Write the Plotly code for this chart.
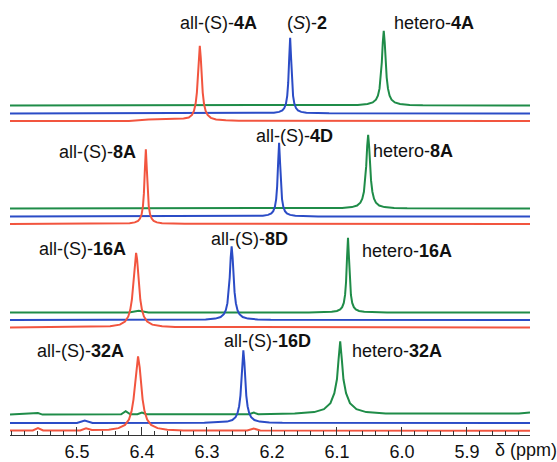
import plotly.graph_objects as go

# ---------------- data (ppm, intensity) ----------------
tick_vals = [6.5, 6.4, 6.3, 6.2, 6.1, 6.0, 5.9]
tick_text = ["6.5", "6.4", "6.3", "6.2", "6.1", "6.0", "5.9"]

# Panel 1
g1_ppm = [6.603, 6.088, 6.068, 6.053, 6.045, 6.040, 6.037, 6.0345, 6.0325, 6.031, 6.0295, 6.028,
          6.0265, 6.025, 6.0235, 6.0215, 6.019, 6.016, 6.011, 6.003, 5.988, 5.968, 5.803]
g1_int = [0, 0.25, 0.57, 1.44, 3.05, 5.9, 9.9, 16.9, 28.3, 43.2, 63.3, 75,
          63.3, 43.2, 28.3, 16.9, 9.9, 5.9, 3.05, 1.44, 0.57, 0.25, 0]
b1_ppm = [6.603, 6.232, 6.212, 6.197, 6.189, 6.184, 6.181, 6.1785, 6.1765, 6.175, 6.1735, 6.172,
          6.1705, 6.169, 6.1675, 6.1655, 6.163, 6.160, 6.155, 6.147, 6.132, 6.112, 5.803]
b1_int = [0, 0.13, 0.29, 0.74, 1.6, 3.1, 5.4, 9.7, 17.7, 30.7, 55, 76,
          55, 30.7, 17.7, 9.7, 5.4, 3.1, 1.6, 0.74, 0.29, 0.13, 0]
r1_ppm = [6.603, 6.42, 6.39, 6.36, 6.336, 6.328, 6.323, 6.320, 6.3175, 6.3155, 6.314, 6.3125, 6.311,
          6.3095, 6.308, 6.3065, 6.3045, 6.302, 6.299, 6.294, 6.286, 6.271, 6.251, 5.803]
r1_int = [0, 0, 1.5, 2.2, 2.5, 3.5, 6, 10, 17, 28.5, 43.5, 63.5, 75.5,
          63.5, 43.5, 28.5, 17, 10, 6, 3.1, 1.5, 0.6, 0.25, 0]

# Panel 2
g2_ppm = [6.603, 6.112, 6.092, 6.077, 6.069, 6.064, 6.061, 6.0585, 6.0565, 6.055, 6.0535, 6.052,
          6.0505, 6.049, 6.0475, 6.0455, 6.043, 6.040, 6.035, 6.027, 6.012, 5.992, 5.803]
g2_int = [0, 0.25, 0.57, 1.44, 3.05, 5.9, 9.9, 16.9, 28, 42.6, 62.5, 74,
          62.5, 42.6, 28, 16.9, 9.9, 5.9, 3.05, 1.44, 0.57, 0.25, 0]
b2_ppm = [6.603, 6.249, 6.229, 6.214, 6.206, 6.201, 6.198, 6.1955, 6.1935, 6.192, 6.1905, 6.189,
          6.1875, 6.186, 6.1845, 6.1825, 6.180, 6.177, 6.172, 6.164, 6.149, 6.129, 5.803]
b2_int = [0, 0.13, 0.29, 0.74, 1.6, 3.1, 5.4, 9.7, 17.5, 30.3, 54, 74,
          54, 30.3, 17.5, 9.7, 5.4, 3.1, 1.6, 0.74, 0.29, 0.13, 0]
r2_ppm = [6.603, 6.454, 6.434, 6.419, 6.411, 6.406, 6.403, 6.4005, 6.3985, 6.397, 6.3955, 6.394,
          6.3925, 6.391, 6.3895, 6.3875, 6.385, 6.382, 6.377, 6.369, 6.354, 6.334, 5.803]
r2_int = [0, 0.13, 0.29, 0.74, 1.6, 3.1, 5.4, 9.7, 17.7, 30.7, 55, 75,
          55, 30.7, 17.7, 9.7, 5.4, 3.1, 1.6, 0.74, 0.29, 0.13, 0]

# Panel 3
g3_ppm = [6.603, 6.42, 6.405, 6.39, 6.143, 6.123, 6.108, 6.100, 6.095, 6.092, 6.0895, 6.0875, 6.086,
          6.0845, 6.083, 6.0815, 6.080, 6.0785, 6.0765, 6.074, 6.071, 6.066, 6.058, 6.043, 6.023, 5.803]
g3_int = [0, 0, 1.8, 0, 0.13, 0.29, 0.74, 1.6, 3.1, 5.4, 9.7, 17.7, 30.7,
          55, 75, 55, 30.7, 17.7, 9.7, 5.4, 3.1, 1.6, 0.74, 0.29, 0.13, 0]
b3_ppm = [6.603, 6.322, 6.302, 6.287, 6.279, 6.274, 6.271, 6.2685, 6.2665, 6.265, 6.2635, 6.262,
          6.2605, 6.259, 6.2575, 6.2555, 6.253, 6.250, 6.245, 6.237, 6.222, 6.202, 5.803]
b3_int = [0, 0.25, 0.57, 1.44, 3.05, 5.9, 9.9, 16.9, 28, 42.6, 62.5, 74,
          62.5, 42.6, 28, 16.9, 9.9, 5.9, 3.05, 1.44, 0.57, 0.25, 0]
r3_ppm = [6.603, 6.469, 6.449, 6.434, 6.426, 6.421, 6.418, 6.4155, 6.4135, 6.412, 6.4105, 6.409,
          6.4075, 6.406, 6.4045, 6.4025, 6.400, 6.397, 6.392, 6.384, 6.369, 6.349, 5.803]
r3_int = [0, 0.52, 1.15, 2.9, 6, 11.1, 17.7, 27.9, 41.4, 55.1, 68.8, 75,
          68.8, 55.1, 41.4, 27.9, 17.7, 11.1, 6, 2.9, 1.15, 0.52, 0]

# Panel 4
g4_ppm = [6.603, 6.567, 6.560, 6.553, 6.432, 6.425, 6.418, 6.407, 6.400, 6.393, 6.235, 6.228, 6.221,
          6.165, 6.135, 6.12, 6.11, 6.104, 6.1, 6.0975, 6.095, 6.0925, 6.09, 6.086, 6.08, 6.07,
          6.055, 6.025, 5.84, 5.82, 5.803]
g4_int = [0.5, 1.5, 2, 0.5, 0.8, 4, 0.8, 0.8, 2.5, 0.8, 0.8, 2.5, 0.8,
          1.5, 3, 6, 12, 22, 36, 56, 74, 56, 36, 22, 12, 6,
          3, 1.5, 1, 1.5, 2.5]
b4_ppm = [6.603, 6.50, 6.488, 6.476, 6.304, 6.284, 6.269, 6.261, 6.256, 6.253, 6.2505, 6.2485, 6.247,
          6.2455, 6.244, 6.2425, 6.241, 6.2395, 6.2375, 6.235, 6.232, 6.227, 6.219, 6.204, 6.184, 5.803]
b4_int = [0, 0, 2.5, 0, 0.25, 0.57, 1.44, 3.05, 5.9, 9.9, 16.9, 27.6, 42,
          61.6, 73, 61.6, 42, 27.6, 16.9, 9.9, 5.9, 3.05, 1.44, 0.57, 0.25, 0]
r4_ppm = [6.603, 6.568, 6.560, 6.552, 6.495, 6.486, 6.477, 6.451, 6.436, 6.426, 6.420, 6.416, 6.413,
          6.4105, 6.4085, 6.406, 6.4035, 6.4015, 6.399, 6.396, 6.392, 6.386, 6.376, 6.361, 6.336,
          6.238, 6.228, 6.218, 5.803]
r4_int = [0.5, 0.5, 3, 0.5, 0.6, 2.8, 1.0, 1.3, 2.9, 6.2, 11.6, 19.8, 31.8,
          48, 64, 75, 64, 48, 31.8, 19.8, 11.6, 6.2, 2.9, 1.3, 0.55,
          0.5, 2.5, 0.5, 0.3]

labels = [
    "all-(S)-<b>4A</b>", "(<i>S</i>)-<b>2</b>", "hetero-<b>4A</b>",
    "all-(S)-<b>8A</b>", "all-(S)-<b>4D</b>", "hetero-<b>8A</b>",
    "all-(S)-<b>16A</b>", "all-(S)-<b>8D</b>", "hetero-<b>16A</b>",
    "all-(S)-<b>32A</b>", "all-(S)-<b>16D</b>", "hetero-<b>32A</b>",
]
axis_title = "δ (ppm)"

# ---------------- styling / layout ----------------
GREEN = "#1f8c48"
BLUE = "#2b4cc6"
RED = "#f2553f"
FONT = "Liberation Sans, Arial, sans-serif"

W, H = 557, 462
ML, MR, MT, MB = 10, 27, 0, 25
PLOT_H = H - MT - MB  # y-axis units = pixels from bottom of plot area

# baseline offsets (pixel units above the x-axis line)
series = [
    (g1_ppm, g1_int, 331, GREEN), (b1_ppm, b1_int, 323, BLUE), (r1_ppm, r1_int, 315.5, RED),
    (g2_ppm, g2_int, 227.5, GREEN), (b2_ppm, b2_int, 219.5, BLUE), (r2_ppm, r2_int, 212, RED),
    (g3_ppm, g3_int, 123, GREEN), (b3_ppm, b3_int, 115.5, BLUE), (r3_ppm, r3_int, 108, RED),
    (g4_ppm, g4_int, 20, GREEN), (b4_ppm, b4_int, 12, BLUE), (r4_ppm, r4_int, 4, RED),
]

fig = go.Figure()
for xs, ys, off, col in series:
    fig.add_trace(go.Scatter(
        x=xs, y=[v + off for v in ys], mode="lines",
        line=dict(color=col, width=2), hoverinfo="skip", showlegend=False,
    ))

label_pos = [
    (6.283, 414), (6.146, 414), (5.951, 414),
    (6.468, 284), (6.166, 300), (5.983, 285),
    (6.492, 187), (6.234, 197), (5.992, 185),
    (6.494, 84), (6.207, 94), (6.008, 84),
]
for txt, (lx, ly) in zip(labels, label_pos):
    fig.add_annotation(x=lx, y=ly, xref="x", yref="y", text=txt, showarrow=False,
                       xanchor="center", yanchor="middle",
                       font=dict(family=FONT, size=18, color="#111"))

fig.add_annotation(x=(493 - ML) / (W - ML - MR), y=-15 / PLOT_H, xref="paper", yref="paper",
                   text=axis_title, showarrow=False, xanchor="left", yanchor="middle",
                   font=dict(family=FONT, size=18, color="#111"))

fig.update_layout(
    width=W, height=H,
    margin=dict(l=ML, r=MR, t=MT, b=MB, pad=0),
    paper_bgcolor="white", plot_bgcolor="white",
    xaxis=dict(
        range=[6.603, 5.803], tickvals=tick_vals, ticktext=tick_text,
        ticks="inside", ticklen=8, tickwidth=1, tickcolor="#333",
        showline=True, linecolor="#333", linewidth=1, mirror=False,
        showgrid=False, zeroline=False,
        minor=dict(dtick=0.02, tick0=6.5, ticks="inside", ticklen=4, tickcolor="#333", tickwidth=1),
        tickfont=dict(family=FONT, size=18, color="#111"),
        fixedrange=True,
    ),
    yaxis=dict(range=[0, PLOT_H], visible=False, fixedrange=True),
)

fig.write_html("out.html", config={"displayModeBar": False},
               post_script="document.body.style.margin='0';")
